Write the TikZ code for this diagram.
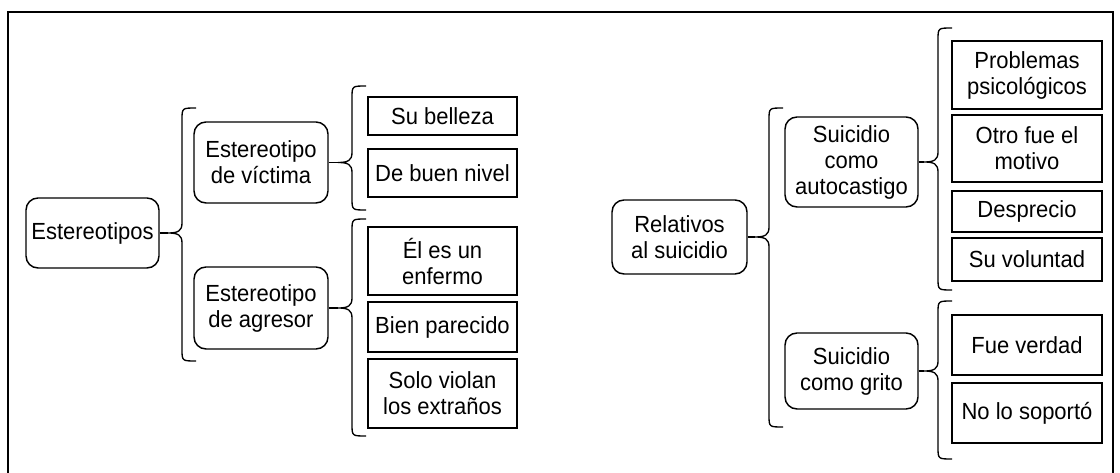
\documentclass[tikz,border=0pt]{standalone}
\usepackage{fontspec}
\setmainfont{Liberation Sans}[FakeStretch=0.943]
\begin{document}
\begin{tikzpicture}[x=0.75pt,y=-0.75pt,
  rbox/.style={draw, line width=1.1pt, rounded corners=9pt, inner sep=0pt, align=center, font=\fontsize{17.5}{19.5}\selectfont},
  sbox/.style={draw, line width=1.1pt, inner sep=0pt, align=center, minimum width=111.75pt, font=\fontsize{17.5}{19.5}\selectfont},
  wbox/.style={sbox, minimum width=112.5pt},
  brc/.style={line width=1pt},
  frm/.style={line width=1.5pt}]
\useasboundingbox (0,0) rectangle (1120,473);
\draw[frm] (8,473) -- (8,12) -- (1113,12) -- (1113,473);

\newcommand\curlybrace[5]{%
  \coordinate (#1) at ({#2-14},#5);
  \draw[brc] ({#2+14},#3) .. controls (#2,#3) .. (#2,{#3+12}) -- (#2,{#5-10})
    .. controls (#2,{#5-2}) and ({#2-4},#5) .. (#1)
    .. controls ({#2-4},#5) and (#2,{#5+2}) .. (#2,{#5+10}) -- (#2,{#4-12})
    .. controls (#2,#4) .. ({#2+14},#4);}

% left tree
\node[rbox, minimum width=99.75pt, minimum height=52.5pt] (est) at (92.5,233) {Estereotipos};
\node[rbox, minimum width=100.5pt, minimum height=60.75pt] (vic) at (261,162.5) {Estereotipo\\de víctima};
\node[rbox, minimum width=100.5pt, minimum height=61.5pt] (agr) at (261,308) {Estereotipo\\de agresor};
\node[sbox, minimum height=28.5pt] (sub) at (442.5,116) {Su belleza};
\node[sbox, minimum height=36pt] (dbn) at (442.5,173) {De buen nivel};
\node[sbox, minimum height=51pt] (ele) at (442.5,261) {Él es un\\enfermo};
\node[sbox, minimum height=37.5pt] (bpa) at (442.5,327) {Bien parecido};
\node[sbox, minimum height=51.75pt] (svl) at (442.5,393.5) {Solo violan\\los extraños};

\curlybrace{b1}{182}{108}{361}{233}
\draw[brc] (est.east) -- (b1);
\curlybrace{b2}{352}{86}{210}{162.5}
\draw[brc] (vic.east) -- (b2);
\curlybrace{b3}{352}{219}{436}{308}
\draw[brc] (agr.east) -- (b3);

% right tree
\node[rbox, minimum width=101.25pt, minimum height=55.5pt] (rel) at (679.5,237) {Relativos\\al suicidio};
\node[rbox, minimum width=99.75pt, minimum height=67.5pt] (aut) at (851.5,162) {Suicidio\\como\\autocastigo};
\node[rbox, minimum width=99.75pt, minimum height=57pt] (gri) at (851.5,371) {Suicidio\\como grito};
\node[wbox, minimum height=51pt] (pro) at (1027,75) {Problemas\\psicológicos};
\node[wbox, minimum height=50.25pt] (otr) at (1027,148.5) {Otro fue el\\motivo};
\node[wbox, minimum height=30.75pt] (des) at (1027,211.5) {Desprecio};
\node[wbox, minimum height=32.25pt] (svo) at (1027,259.5) {Su voluntad};
\node[wbox, minimum height=45pt] (fve) at (1027,345) {Fue verdad};
\node[wbox, minimum height=45pt] (nls) at (1027,413) {No lo soportó};

\curlybrace{b4}{769}{108}{427}{237}
\draw[brc] (rel.east) -- (b4);
\curlybrace{b5}{938}{28}{290}{162}
\draw[brc] (aut.east) -- (b5);
\curlybrace{b6}{938}{301}{459}{371}
\draw[brc] (gri.east) -- (b6);
\end{tikzpicture}
\end{document}
